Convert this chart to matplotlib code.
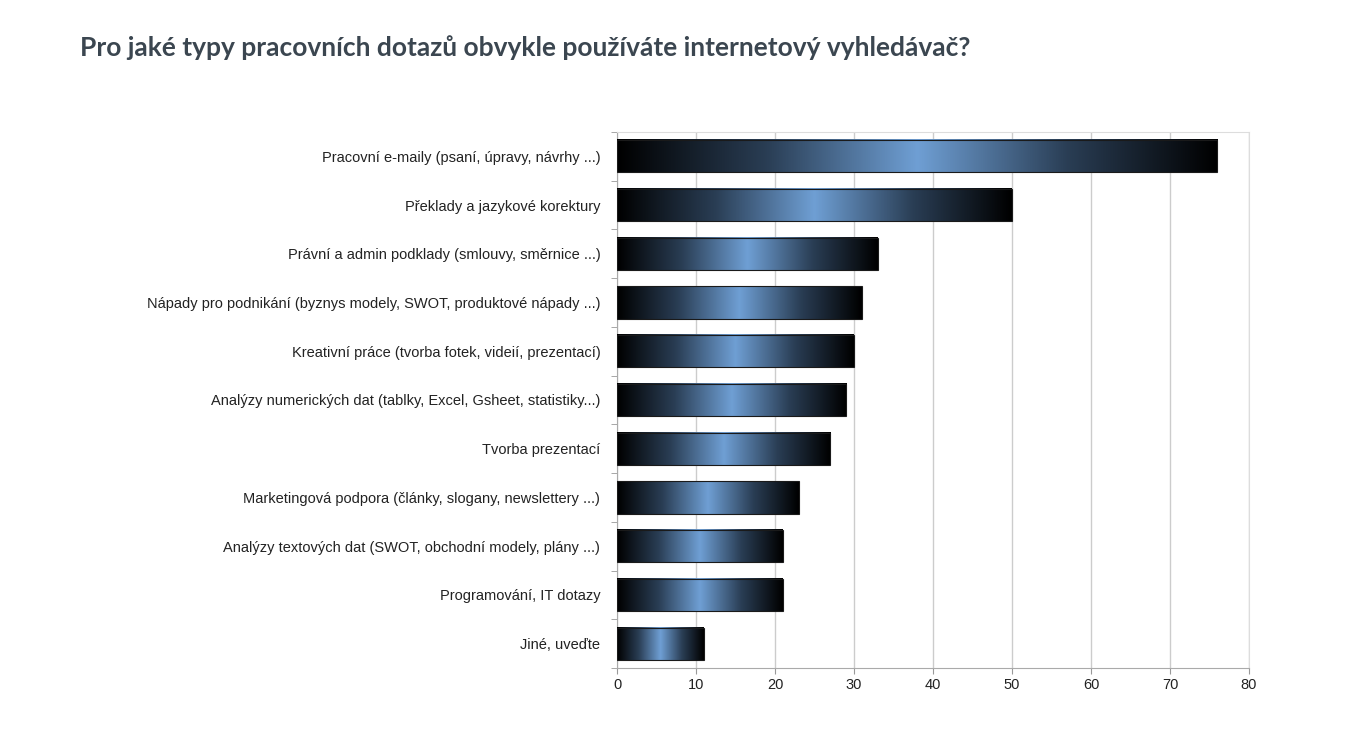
import numpy as np
import matplotlib
matplotlib.use("Agg")
import matplotlib.pyplot as plt
from matplotlib.colors import LinearSegmentedColormap

categories = [
    "Pracovní e-maily (psaní, úpravy, návrhy ...)",
    "Překlady a jazykové korektury",
    "Právní a admin podklady (smlouvy, směrnice ...)",
    "Nápady pro podnikání (byznys modely, SWOT, produktové nápady ...)",
    "Kreativní práce (tvorba fotek, videií, prezentací)",
    "Analýzy numerických dat (tablky, Excel, Gsheet, statistiky...)",
    "Tvorba prezentací",
    "Marketingová podpora (články, slogany, newslettery ...)",
    "Analýzy textových dat (SWOT, obchodní modely, plány ...)",
    "Programování, IT dotazy",
    "Jiné, uveďte",
]
values = [76, 50, 33, 31, 30, 29, 27, 23, 21, 21, 11]
xticks = [0, 10, 20, 30, 40, 50, 60, 70, 80]
title = "Pro jaké typy pracovních dotazů obvykle používáte internetový vyhledávač?"

fig = plt.figure(figsize=(13.6, 7.4), dpi=100)
fig.text(80/1360, 1-48/740, title, fontsize=19, fontweight="bold", color="#3b4650",
         va="center", ha="left", family="Lato")
ax = fig.add_axes([617/1360, 1-668/740, 632/1360, 536/740])

cmap = LinearSegmentedColormap.from_list("g", ["#000000", "#2a3e55", "#6f9fd4", "#2a3e55", "#000000"])
grad = np.linspace(0, 1, 256).reshape(1, -1)
n = len(values)
h = 0.66
ys = np.arange(n)[::-1]
for y, v in zip(ys, values):
    ax.imshow(grad, cmap=cmap, aspect="auto", extent=[0, v, y - h/2, y + h/2], zorder=3)
    ax.barh(y, v, height=h, facecolor="none", edgecolor="#1a1a1a", linewidth=0.8, zorder=4)

ax.set_xlim(0, 80)
ax.set_ylim(-0.5, n - 0.5)
ax.set_xticks(xticks)
ax.set_yticks(ys)
ax.set_yticklabels(categories, fontsize=10.5, family="Liberation Sans", color="#222222")
ax.set_yticks(np.arange(-0.5, n, 1), minor=True)
ax.tick_params(axis="y", which="major", length=0, pad=12)
ax.tick_params(axis="y", which="minor", length=4, color="#999999")
ax.tick_params(axis="x", length=4, color="#999999", labelsize=10.5, labelcolor="#222222")
for lab in ax.get_xticklabels():
    lab.set_family("Liberation Sans")
ax.grid(axis="x", color="#cccccc", linewidth=1, zorder=0)
ax.set_axisbelow(True)
for s in ["top", "right"]:
    ax.spines[s].set_color("#dddddd")
for s in ["left", "bottom"]:
    ax.spines[s].set_color("#aaaaaa")
fig.savefig("out.png", dpi=100, facecolor="white")
